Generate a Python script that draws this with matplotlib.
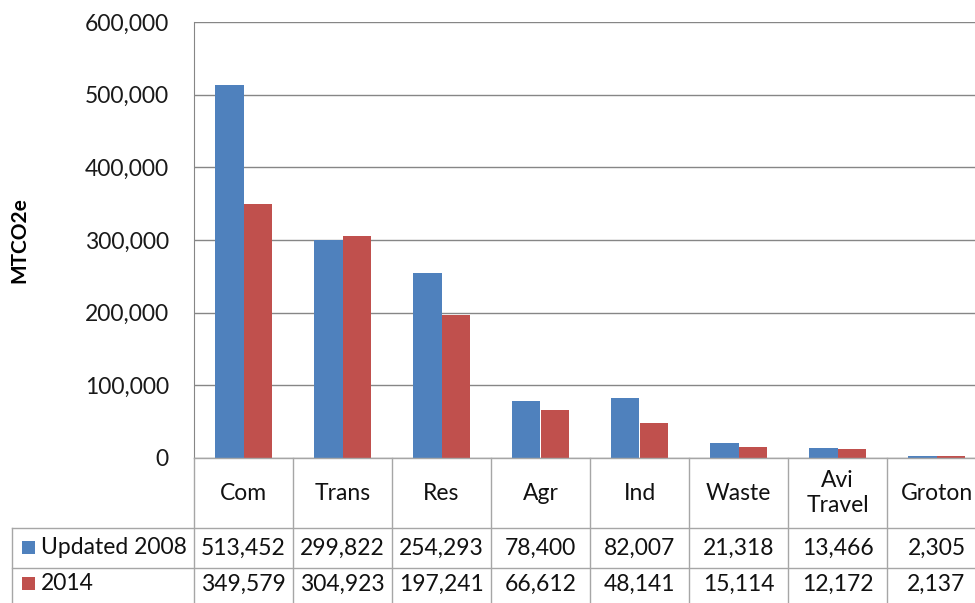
import numpy as np
import matplotlib.pyplot as plt
from matplotlib.lines import Line2D
from matplotlib.patches import Rectangle
import matplotlib.transforms as mtransforms
from matplotlib.ticker import FuncFormatter, MultipleLocator

plt.rcParams['font.family'] = ['Lato', 'DejaVu Sans']

categories = ['Com', 'Trans', 'Res', 'Agr', 'Ind', 'Waste', 'Avi\nTravel', 'Groton']
series_names = ['Updated 2008', '2014']
updated_2008 = [513452, 299822, 254293, 78400, 82007, 21318, 13466, 2305]
y2014 = [349579, 304923, 197241, 66612, 48141, 15114, 12172, 2137]
colors = ['#4F81BD', '#C0504D']

W, H = 975, 603
fig = plt.figure(figsize=(W / 100, H / 100), dpi=100)

# plot area in pixels: left 194, top 22, zero line 458, 8 columns of ~99 px
left, top, base, colw = 194, 22, 458, 99
ax = fig.add_axes([left / W, (H - base) / H, 8 * colw / W, (base - top) / H])

x = np.arange(len(categories))
bw = 0.283
ax.bar(x - bw / 2, updated_2008, bw, color=colors[0], zorder=3)
ax.bar(x + bw / 2, y2014, bw, color=colors[1], zorder=3)

ax.set_xlim(-0.5, len(categories) - 0.5)
ax.set_ylim(0, 600000)
ax.yaxis.set_major_locator(MultipleLocator(100000))
ax.yaxis.set_major_formatter(FuncFormatter(lambda v, p: f'{int(v):,}'))
ax.grid(axis='y', color='#868686', linewidth=1, zorder=0)
ax.set_xticks([])
ax.tick_params(axis='y', length=0, pad=18, labelsize=16.5, labelcolor='#1a1a1a')
for s in ['top', 'right', 'bottom']:
    ax.spines[s].set_visible(False)
ax.spines['left'].set_color('#868686')
ax.set_ylabel('MTCO2e', fontsize=15, fontweight='bold')
ax.yaxis.set_label_coords(-(left - 29) / (8 * colw), 0.5)

# data table under the plot
tr = mtransforms.blended_transform_factory(ax.transData, fig.transFigure)
fy = lambda py: (H - py) / H
fx = lambda px: px / W
lc = '#A6A6A6'

def hline(x0, x1, py):
    fig.add_artist(Line2D([fx(x0), fx(x1)], [fy(py), fy(py)], color=lc, lw=1))

def vline(px, y0, y1):
    fig.add_artist(Line2D([fx(px), fx(px)], [fy(y0), fy(y1)], color=lc, lw=1))

hline(12, W + 20, 528)
hline(12, W + 20, 568)
hline(left, W + 20, base)
vline(12, 528, H + 5)
for i in range(len(categories) + 1):
    vline(left + i * colw, base, H + 5)

for i, c in enumerate(categories):
    ax.text(i, fy(493), c, transform=tr, ha='center', va='center',
            fontsize=16.5, color='#111111', linespacing=1.25, clip_on=False)

rows = [updated_2008, y2014]
row_y = [548, 584]
for vals, name, col, py in zip(rows, series_names, colors, row_y):
    fig.add_artist(Rectangle((fx(22), fy(py + 6)), 13 / W, 13 / H,
                             facecolor=col, edgecolor='none',
                             transform=fig.transFigure))
    fig.text(fx(41), fy(py), name, ha='left', va='center', fontsize=16.5, color='#111111')
    for i, v in enumerate(vals):
        ax.text(i, fy(py), f'{v:,}', transform=tr, ha='center', va='center',
                fontsize=16.5, color='#111111', clip_on=False)

fig.savefig('out.png', dpi=100)
